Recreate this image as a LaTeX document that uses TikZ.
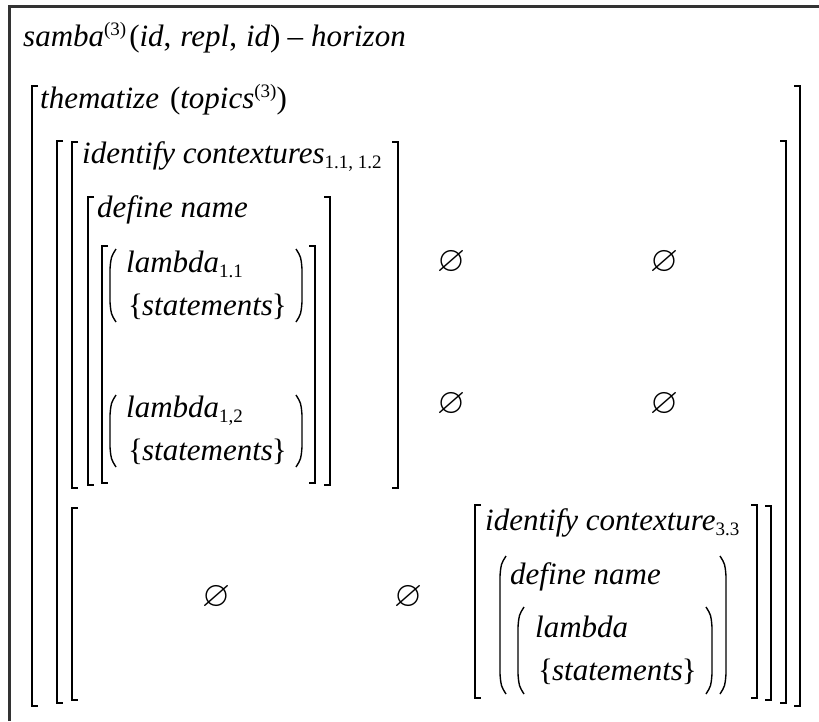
\documentclass[tikz,border=0pt]{standalone}
\usepackage{amssymb}
\usepackage{fontspec}
\setmainfont{Liberation Serif}
\tikzset{
  brk/.style={line width=1.8pt},
  par/.style={line width=1.4pt},
  txt/.style={anchor=base west, inner sep=0pt, font=\fontsize{31}{34}\selectfont\itshape},
  nul/.style={inner sep=0pt, font=\fontsize{36}{36}\selectfont}
}
% sub- and superscripts (upright, small)
\newcommand{\lo}[1]{\raisebox{-5pt}{\upshape\fontsize{19}{19}\selectfont #1}}
\newcommand{\hi}[1]{\raisebox{11pt}{\upshape\fontsize{19}{19}\selectfont #1}}
% {statements}
\newcommand{\stm}{\textup{\{}\kern-1pt statements\kern-1pt\textup{\}}}
% brackets: x, top, bottom
\newcommand{\lbrk}[3]{\draw[brk] (#1+6,#2) -- (#1,#2) -- (#1,#3) -- (#1+6,#3);}
\newcommand{\rbrk}[3]{\draw[brk] (#1-6,#2) -- (#1,#2) -- (#1,#3) -- (#1-6,#3);}
% parentheses: x, top, bottom
\newcommand{\lpar}[3]{\draw[par] (#1+6,#2) .. controls (#1+1,#2+8) .. (#1,#2+20) -- (#1,#3-20) .. controls (#1+1,#3-8) .. (#1+6,#3);}
\newcommand{\rpar}[3]{\draw[par] (#1-6,#2) .. controls (#1-1,#2+8) .. (#1,#2+20) -- (#1,#3-20) .. controls (#1-1,#3-8) .. (#1-6,#3);}

\begin{document}
\begin{tikzpicture}[x=1pt, y=-1pt]
    \useasboundingbox (0,0) rectangle (819,721);

    % cadre (haut et gauche)
    \draw[line width=3pt, black!80] (9,721) -- (9,6) -- (819,6);

    % titre
    \node[txt] (title) at (23,46) {samba\hi{(3)}\hspace{3pt}\textup{(}id\textup{,}\hspace{9pt}repl\textup{,}\hspace{9pt}id\textup{)}\hspace{7pt}\textup{--}\hspace{8pt}horizon};

    % niveau thematize
    \lbrk{32}{86}{706} \rbrk{800}{86}{706}
    \node[txt] (them) at (40,108) {thematize\hspace{11pt}\textup{(}topics\hi{(3)}\textup{)}};

    % matrice
    \lbrk{57}{141}{703} \rbrk{786}{141}{703}

    % bloc contextures 1.1, 1.2
    \lbrk{72}{142}{488} \rbrk{398}{142}{488}
    \node[txt] (ctx) at (82,163) {identify contextures\lo{1.1, 1.2}};
    \lbrk{88}{197}{485} \rbrk{330}{197}{485}
    \node[txt] (def) at (97,217) {define name};
    \lbrk{102}{246}{483} \rbrk{315}{246}{483}

    % lambda 1.1
    \lpar{110}{249}{322} \rpar{302}{249}{322}
    \node[txt] (lamA) at (126,272) {lambda\lo{1.1}};
    \node[txt] (stA) at (128,315) {\stm};

    % lambda 1,2
    \lpar{110}{395}{467} \rpar{302}{395}{467}
    \node[txt] (lamB) at (126,417) {lambda\lo{1,2}};
    \node[txt] (stB) at (128,460) {\stm};

    % ensembles vides
    \node[nul] (e12) at (451,262) {$\varnothing$};
    \node[nul] (e13) at (664,262) {$\varnothing$};
    \node[nul] (e22) at (451,404) {$\varnothing$};
    \node[nul] (e23) at (664,404) {$\varnothing$};

    % ligne 3
    \lbrk{72}{508}{700} \rbrk{771}{506}{700}
    \node[nul] (e31) at (216,597) {$\varnothing$};
    \node[nul] (e32) at (408,597) {$\varnothing$};

    % bloc contexture 3.3
    \lbrk{475}{505}{698} \rbrk{757}{505}{698}
    \node[txt] (ctxC) at (485,530) {identify contexture\lo{3.3}};
    \lpar{500}{556}{694} \rpar{726}{556}{694}
    \node[txt] (defC) at (510,584) {define name};
    \lpar{518}{607}{694} \rpar{712}{607}{694}
    \node[txt] (lamC) at (535,637) {lambda};
    \node[txt] (stC) at (538,680) {\stm};
\end{tikzpicture}
\end{document}
